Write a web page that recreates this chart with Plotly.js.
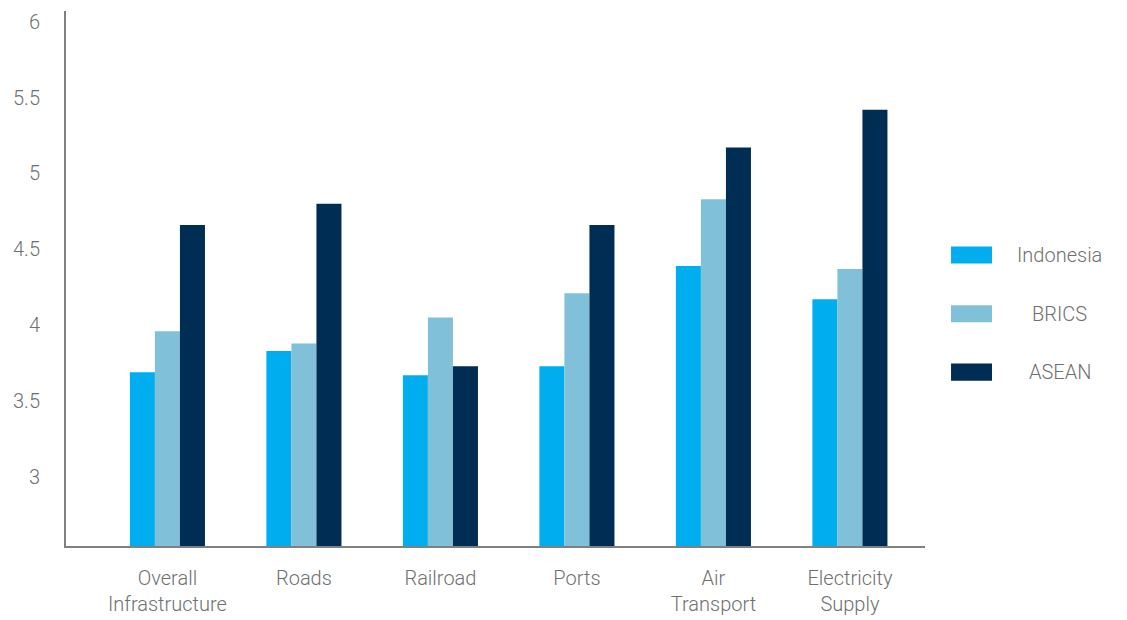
<!DOCTYPE html>
<html>
<head>
<meta charset="utf-8">
<script src="https://cdn.plot.ly/plotly-3.0.1.min.js"></script>
<style>html,body{margin:0;padding:0;background:#fff;}#chart{width:1127px;height:620px;}</style>
</head>
<body>
<div id="chart"></div>
<script>
const categories = ["Overall<br>Infrastructure", "Roads", "Railroad", "Ports", "Air<br>Transport", "Electricity<br>Supply"];
const seriesNames = ["Indonesia", "BRICS", "ASEAN"];
const indonesia = [3.69, 3.83, 3.67, 3.73, 4.39, 4.17];
const brics = [3.96, 3.88, 4.05, 4.21, 4.83, 4.37];
const asean = [4.66, 4.80, 3.73, 4.66, 5.17, 5.42];
const yTicks = [3, 3.5, 4, 4.5, 5, 5.5, 6];
const yTickText = ["3", "3.5", "4", "4.5", "5", "5.5", "6"];
const colors = ["#00AEEF", "#80C0D9", "#002D54"];

const values = [indonesia, brics, asean];
const traces = values.map((v, i) => ({
  type: "bar",
  x: categories,
  y: v,
  name: seriesNames[i],
  marker: {color: colors[i]},
  showlegend: false,
  hoverinfo: "x+y+name"
}));

const fontFam = "Roboto, 'Helvetica Neue', Arial, sans-serif";
const shapes = [];
const annotations = [];
const legendY = [0.544, 0.434, 0.325];
seriesNames.forEach((n, i) => {
  const yc = legendY[i];
  shapes.push({type: "rect", xref: "paper", yref: "paper",
    x0: 1.0303, x1: 1.078, y0: yc - 0.016, y1: yc + 0.016,
    fillcolor: colors[i], line: {width: 0}});
  annotations.push({xref: "paper", yref: "paper", x: 1.157, y: yc,
    text: n, showarrow: false, xanchor: "center", yanchor: "middle",
    font: {family: fontFam, size: 20, color: "#707070", weight: 300}});
});

const layout = {
  width: 1127, height: 620,
  margin: {l: 66, r: 202, t: 11, b: 74},
  paper_bgcolor: "#fff", plot_bgcolor: "#fff",
  barmode: "group",
  bargap: 0.45, bargroupgap: 0,
  font: {family: fontFam, color: "#707070", size: 20, weight: 300},
  xaxis: {
    type: "category",
    range: [-0.743, 5.55],
    showline: true, linecolor: "#808080", linewidth: 2,
    showgrid: false, zeroline: false,
    ticks: "outside", ticklen: 13, tickcolor: "rgba(0,0,0,0)",
    tickfont: {family: fontFam, size: 20, color: "#707070", weight: 300}
  },
  yaxis: {
    range: [2.545, 6.07],
    tickvals: yTicks, ticktext: yTickText,
    showline: true, linecolor: "#808080", linewidth: 2,
    showgrid: false, zeroline: false,
    ticks: "outside", ticklen: 20, tickcolor: "rgba(0,0,0,0)",
    tickfont: {family: fontFam, size: 20, color: "#707070", weight: 300}
  },
  shapes: shapes,
  annotations: annotations,
  showlegend: false
};

Plotly.newPlot("chart", traces, layout, {displayModeBar: false, staticPlot: true});
</script>
</body>
</html>
